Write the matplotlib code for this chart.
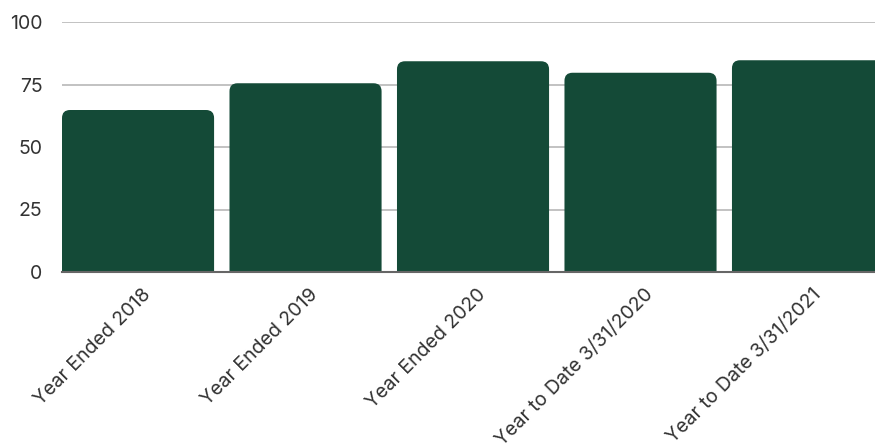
import matplotlib
matplotlib.use("Agg")
import matplotlib.pyplot as plt
import matplotlib.transforms as mtransforms
from matplotlib.patches import FancyBboxPatch

plt.rcParams['font.family'] = ['Inter', 'DejaVu Sans']

categories = ["Year Ended 2018", "Year Ended 2019", "Year Ended 2020",
              "Year to Date 3/31/2020", "Year to Date 3/31/2021"]
values = [64.8, 75.5, 84.3, 79.7, 84.7]
yticks = [0, 25, 50, 75, 100]

W, H = 875, 445
fig = plt.figure(figsize=(W / 100, H / 100), dpi=100)
ax = fig.add_axes([62 / W, 1 - 272 / H, 1 - 62 / W, 250 / H])

bar_w = 0.908
ax.set_xlim(-bar_w / 2, 4.4)
ax.set_ylim(0, 100)

# pixels per data unit, to keep corner rounding circular
px_x = ax.get_position().width * W / (4.4 + bar_w / 2)
px_y = ax.get_position().height * H / 100
r_px = 8
r = r_px / px_x
aspect = (r_px / px_y) / r

for i, v in enumerate(values):
    # extend below 0 so bottom corners get clipped by the axes
    box = FancyBboxPatch((i - bar_w / 2, -10), bar_w, v + 10,
                         boxstyle=f"round,pad=0,rounding_size={r}",
                         mutation_aspect=aspect,
                         facecolor="#144a37", edgecolor="none", zorder=3)
    ax.add_patch(box)

ax.set_yticks(yticks)
ax.yaxis.grid(True, color="#bdbdbd", linewidth=1.3, zorder=0)
ax.set_axisbelow(True)
for s in ["top", "right", "left"]:
    ax.spines[s].set_visible(False)
ax.spines["bottom"].set_color("#666666")
ax.spines["bottom"].set_linewidth(1.5)
ax.spines["bottom"].set_zorder(4)
ax.tick_params(axis="both", length=0, labelsize=14, colors="#333333")
ax.tick_params(axis="y", pad=14)

ax.set_xticks(range(len(categories)))
ax.set_xticklabels(categories, rotation=45, ha="right", va="center",
                   rotation_mode="anchor", fontsize=14)
ax.tick_params(axis="x", pad=14)
shift = mtransforms.ScaledTranslation(10 / 100, 0, fig.dpi_scale_trans)
for lbl in ax.get_xticklabels():
    lbl.set_transform(lbl.get_transform() + shift)

fig.savefig("out.png", dpi=100)
